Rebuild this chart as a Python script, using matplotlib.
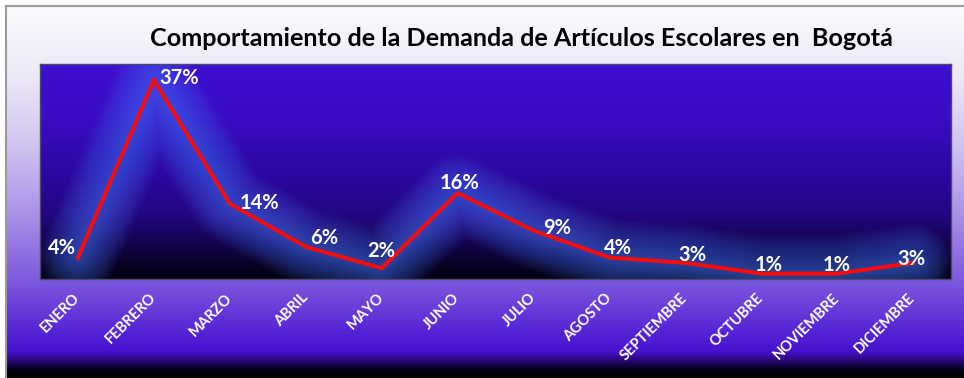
import matplotlib
matplotlib.use("Agg")
import matplotlib.pyplot as plt
import numpy as np
from matplotlib.colors import LinearSegmentedColormap
from matplotlib.lines import Line2D

# ---- data ----
months = ["ENERO", "FEBRERO", "MARZO", "ABRIL", "MAYO", "JUNIO", "JULIO",
          "AGOSTO", "SEPTIEMBRE", "OCTUBRE", "NOVIEMBRE", "DICIEMBRE"]
demand = [0.04, 0.37, 0.14, 0.06, 0.02, 0.16, 0.09, 0.04, 0.03, 0.01, 0.01, 0.03]
title = "Comportamiento de la Demanda de Artículos Escolares en  Bogotá"

# label offsets in pixels (style only)
label_offsets = [(-2, 10, "right"), (5, 2, "left"), (10, 1, "left"), (4, 9, "left"),
                 (0, 17, "center"), (2, 10, "center"), (10, 3, "left"), (-5, 9, "left"),
                 (7, 8, "center"), (7, 9, "center"), (0, 9, "center"), (-2, 4, "center")]

W, H = 964, 378
fig = plt.figure(figsize=(W / 100, H / 100), dpi=100)
fig.patch.set_facecolor("white")

# ---- figure background gradient ----
bg = fig.add_axes([6 / W, 0, 1 - 6 / W, (H - 6) / H], zorder=-5)
bg_stops = [(0.0, "#fbfbfd"), (0.20, "#ebe6f6"), (0.38, "#cfc2f0"), (0.58, "#a68be6"),
            (0.75, "#7a55dd"), (0.86, "#5a2bd6"), (0.93, "#4612cf"), (0.955, "#28097a"),
            (0.98, "#060115"), (1.0, "#000000")]
bg_cmap = LinearSegmentedColormap.from_list("bg", bg_stops)
grad = np.linspace(0, 1, 400).reshape(-1, 1)
bg.imshow(grad, cmap=bg_cmap, aspect="auto", extent=[0, 1, 0, 1], origin="upper")
bg.set_axis_off()

# border lines
fig.add_artist(Line2D([6 / W, 1], [(H - 5.5) / H] * 2, color="#9a9a9a", lw=1.5))
fig.add_artist(Line2D([6 / W] * 2, [0, (H - 5.5) / H], color="#9a9a9a", lw=1.5))

# ---- main axes ----
ax = fig.add_axes([40 / W, (H - 279) / H, (951 - 40) / W, (279 - 64) / H])
n = len(months)
x = np.arange(n)
ax.set_xlim(-0.5, n - 0.5)
ax.set_ylim(0, 0.40)

plot_stops = [(0.0, "#3e0fd0"), (0.25, "#3a0cc4"), (0.52, "#2c07a0"), (0.7, "#220680"),
              (0.83, "#150450"), (0.93, "#080226"), (1.0, "#020010")]
plot_cmap = LinearSegmentedColormap.from_list("pa", plot_stops)
ax.imshow(grad, cmap=plot_cmap, aspect="auto", extent=[-0.5, n - 0.5, 0, 0.40],
          origin="upper", zorder=0)

# glow
for lw in np.linspace(56, 4, 26):
    ax.plot(x, demand, color="#4f7cff", lw=lw, alpha=0.033, solid_capstyle="round",
            solid_joinstyle="round", zorder=2)
ax.plot(x, demand, color="#ff0a0a", lw=2.8, zorder=3, solid_joinstyle="miter")

# data labels
for xi, v, (dx, dy, ha) in zip(x, demand, label_offsets):
    ax.annotate(f"{v * 100:.0f}%", (xi, v), xytext=(dx * 0.72, dy * 0.72),
                textcoords="offset points", ha=ha, va="center", color="white",
                fontsize=14.5, fontweight="bold", family="Lato", zorder=5)

ax.set_xticks(x)
ax.set_xticklabels(months, rotation=45, ha="right", va="center", rotation_mode="anchor",
                   color="white", fontsize=10.5, fontweight="bold", family="Lato")
ax.tick_params(axis="x", length=0, pad=12)
ax.set_yticks([])
for s in ax.spines.values():
    s.set_color("#4a4a6a")
    s.set_linewidth(1)

# title
fig.text(521 / W, 1 - 39 / H, title, ha="center", va="center", fontsize=18.2,
         fontweight="bold", family="Lato", color="black")

fig.savefig("out.png", dpi=100)
